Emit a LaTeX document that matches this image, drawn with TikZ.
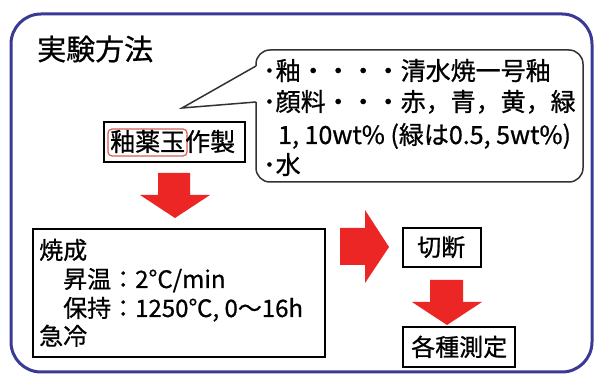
\documentclass[tikz,border=0pt]{standalone}
\usepackage{fontspec}
\setmainfont{Noto Sans CJK JP}[FakeBold=0.8]
\definecolor{frameblue}{RGB}{58,58,150}
\definecolor{arrred}{RGB}{236,38,36}
\definecolor{markred}{RGB}{215,95,85}
\definecolor{calloutgray}{RGB}{50,50,50}
\begin{document}
\begin{tikzpicture}[x=1pt,y=-1pt,
  txt/.style={inner sep=0pt, anchor=base west, font=\fontsize{24}{24}\selectfont},
  big/.style={font=\fontsize{25}{25}\selectfont},
  boxline/.style={draw=black, line width=2pt},
  blockarrow/.style={fill=arrred, draw=none}]
\fill[white] (0,0) rectangle (595,374);
\useasboundingbox (0,0) rectangle (595,374);
% outer frame
\draw[frameblue, line width=3pt, rounded corners=30pt] (11,14) rectangle (592,372);
% title (centre y 49)
\node[txt, font=\fontsize{29}{29}\selectfont] (title) at (37,60) {実験方法};
% callout
\coordinate (ctip) at (182,108);
\draw[calloutgray, line width=1.5pt, rounded corners=14pt] (256,102) -- (256,182) -- (583,182) -- (583,50) -- (256,50) -- (256,66);
\draw[calloutgray, line width=1.5pt, line join=miter] (256,66) -- (ctip) -- (256,102);
\node[txt, big] (c1) at (263,80) {･釉・・・・清水焼一号釉};
\node[txt, big] (c2) at (263,111) {･顔料・・・赤，青，黄，緑};
\node[txt, big] (c3) at (278,144) {1, 10wt\% (緑は0.5, 5wt\%)};
\node[txt, big] (c4) at (263,174) {･水};
% preparation box
\draw[boxline] (104,122) rectangle (245,162);
\draw[markred, line width=1.2pt, rounded corners=4pt] (108,129) rectangle (187,156);
\node[txt, big] (prep) at (110,151) {釉薬玉作製};
% arrow 1
\fill[blockarrow] (158,173) -- (190,173) -- (190,195) -- (210,195) -- (175,218) -- (140,195) -- (158,195) -- cycle;
% firing box
\draw[boxline] (33,229) rectangle (325,357);
\node[txt] (f1) at (39,259) {焼成};
\node[txt] (f2) at (63,288) {昇温：2°C/min};
\node[txt] (f3) at (63,317) {保持：1250℃, 0〜16h};
\node[txt] (f4) at (39,345) {急冷};
% arrow right
\fill[blockarrow] (340,228) -- (365,228) -- (365,210) -- (389,247) -- (365,283) -- (365,265) -- (340,265) -- cycle;
% cut box
\draw[boxline] (403,228) rectangle (481,267);
\node[txt] (cut) at (417,256) {切断};
% arrow 2
\fill[blockarrow] (430,280) -- (463,280) -- (463,302) -- (482,302) -- (447,325) -- (412,302) -- (430,302) -- cycle;
% measurement box
\draw[boxline] (403,327) rectangle (515,367);
\node[txt] (meas) at (411,356) {各種測定};
\end{tikzpicture}
\end{document}
